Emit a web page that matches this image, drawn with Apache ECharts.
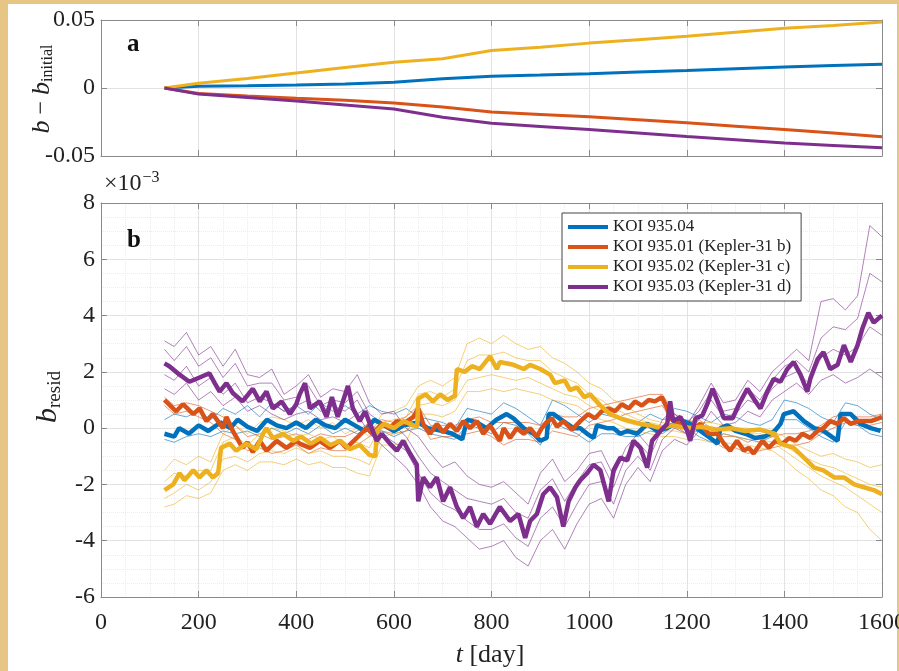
<!DOCTYPE html>
<html>
<head>
<meta charset="utf-8">
<script src="https://cdn.jsdelivr.net/npm/echarts@6/dist/echarts.min.js"></script>
<style>
  html, body { margin: 0; padding: 0; }
  body { width: 899px; height: 671px; background: #e7c585; position: relative; overflow: hidden; }
  #paper { position: absolute; left: 8px; top: 4px; width: 889px; height: 667px; background: #fff; }
  #main { position: absolute; left: 0; top: 0; width: 899px; height: 671px; }
</style>
</head>
<body>
<div id="paper"></div>
<div id="main"></div>
<script>
// panel a: b - b_initial
var topT = [130, 200, 300, 400, 500, 600, 700, 800, 900, 1000, 1100, 1200, 1300, 1400, 1500, 1600];
var topBlue = [0, 0.0013, 0.0017, 0.0022, 0.003, 0.0042, 0.0068, 0.0087, 0.0095, 0.0104, 0.0117, 0.0129, 0.0142, 0.0154, 0.0165, 0.0174];
var topOrange = [0, -0.004, -0.0058, -0.0075, -0.009, -0.011, -0.014, -0.0177, -0.0194, -0.0211, -0.0233, -0.0256, -0.0281, -0.0306, -0.0331, -0.0358];
var topYellow = [0, 0.0035, 0.007, 0.011, 0.015, 0.019, 0.0215, 0.0275, 0.030, 0.033, 0.0355, 0.038, 0.041, 0.044, 0.046, 0.0485];
var topPurple = [0, -0.0045, -0.007, -0.0095, -0.0125, -0.0155, -0.0215, -0.026, -0.0283, -0.0306, -0.0331, -0.0356, -0.038, -0.0405, -0.0422, -0.044];

// panel b: main (thick) residual curves, [t, b_resid x1e-3]
var blueMain = [[130,-0.2],[150,-0.3],[160,0],[180,-0.2],[200,0.1],[220,-0.1],[245,0.2],[265,0],[280,0.3],[300,0.05],[320,-0.1],[340,0.3],[360,0.1],[380,0],[400,0.2],[420,0],[440,0.3],[460,0.1],[480,0],[500,0.3],[520,0.1],[540,-0.1],[560,0.3],[580,0.1],[600,-0.1],[620,0.1],[650,0.2],[670,0],[700,-0.1],[720,-0.2],[740,-0.4],[750,0.3],[770,0.2],[790,0],[810,0.3],[831,0.5],[845,0.35],[866,0],[886,-0.2],[900,-0.45],[913,-0.35],[917,0.5],[927,0.5],[947,0.25],[968,0],[982,0],[996,-0.2],[1009,-0.35],[1016,0.1],[1037,0],[1050,0],[1064,-0.2],[1078,-0.1],[1098,-0.2],[1119,0.15],[1139,-0.1],[1160,0],[1187,0.3],[1207,0.15],[1228,-0.1],[1248,-0.35],[1263,-0.55],[1269,0],[1283,0.1],[1300,-0.1],[1320,-0.2],[1340,-0.35],[1360,-0.3],[1380,-0.1],[1392,0.15],[1399,0.5],[1419,0.6],[1440,0.25],[1461,0],[1480,-0.1],[1509,-0.45],[1515,0.5],[1536,0.5],[1556,0.15],[1577,0],[1597,-0.1]];
var orangeMain = [[130,1.0],[134,0.95],[154,0.6],[168,0.85],[189,0.5],[202,0.7],[216,0.25],[229,0.5],[250,0],[257,0.4],[270,-0.1],[290,-0.7],[300,-0.5],[311,-0.85],[325,-0.45],[339,-0.8],[360,-0.45],[380,-0.7],[400,-0.45],[407,-0.55],[428,-0.7],[448,-0.45],[469,-0.7],[489,-0.45],[503,-0.7],[524,-0.35],[544,0],[557,-0.2],[575,0.15],[592,0],[606,0.25],[619,0.15],[640,0.4],[650,0.7],[660,0.15],[674,-0.2],[688,0.15],[701,-0.15],[715,0.15],[729,-0.1],[742,0.25],[756,0],[770,0.25],[783,-0.2],[797,0.1],[804,-0.1],[817,-0.45],[825,0],[838,-0.35],[852,0],[866,-0.2],[879,0],[893,-0.3],[903,0],[913,0.2],[924,0.35],[934,0.05],[947,0.25],[965,-0.05],[982,0.25],[998,0.5],[1012,0.35],[1026,0.6],[1040,0.7],[1053,0.6],[1067,0.85],[1081,0.7],[1094,0.95],[1108,0.8],[1122,1.0],[1135,0.95],[1149,1.1],[1160,0.7],[1166,0.35],[1187,0.15],[1207,-0.1],[1228,0.15],[1245,-0.2],[1263,-0.2],[1276,-0.55],[1289,-0.8],[1303,-0.45],[1317,-0.8],[1327,-0.7],[1337,-0.9],[1355,-0.45],[1368,-0.7],[1382,-0.45],[1396,-0.55],[1410,-0.35],[1423,-0.45],[1437,-0.2],[1453,-0.35],[1468,-0.1],[1480,0],[1494,0.25],[1509,0.15],[1522,0.35],[1536,0.15],[1550,0.25],[1577,0.25],[1593,0.35],[1600,0.4]];
var yellowMain = [[130,-2.2],[134,-2.15],[148,-2.0],[161,-1.6],[171,-1.85],[189,-1.5],[202,-1.75],[216,-1.5],[229,-1.75],[240,-1.6],[246,-0.7],[264,-0.55],[277,-0.8],[298,-0.55],[318,-0.75],[332,-0.2],[339,0],[352,-0.35],[373,-0.2],[394,-0.45],[410,-0.3],[430,-0.55],[450,-0.35],[470,-0.6],[490,-0.45],[510,-0.75],[530,-0.6],[550,-0.95],[562,-1.0],[565,-0.1],[580,0.15],[600,0],[620,0.25],[640,0.1],[648,0.05],[650,1.05],[665,1.2],[680,0.95],[695,1.2],[710,1.0],[725,1.15],[729,2.1],[745,2.0],[760,2.2],[776,2.1],[797,2.55],[811,2.1],[817,2.35],[845,2.25],[866,2.1],[879,2.25],[900,2.1],[920,1.9],[930,1.6],[950,1.7],[961,1.35],[975,1.45],[990,1.1],[1002,1.2],[1023,0.8],[1043,0.5],[1064,0.35],[1084,0.25],[1105,0.15],[1125,0.1],[1146,0],[1170,0.1],[1200,0],[1230,0.05],[1260,-0.05],[1290,0],[1320,-0.1],[1350,-0.05],[1380,-0.2],[1392,-0.55],[1419,-0.7],[1440,-1.05],[1461,-1.4],[1480,-1.5],[1502,-1.75],[1522,-1.75],[1543,-2.0],[1563,-2.1],[1583,-2.2],[1600,-2.35]];
var purpleMain = [[130,2.3],[140,2.2],[161,1.9],[181,1.65],[202,1.8],[222,1.95],[233,1.6],[243,1.3],[257,1.6],[270,1.25],[290,0.95],[311,1.4],[325,0.95],[339,1.3],[352,0.7],[370,0.95],[387,0.5],[400,0.85],[407,1.2],[418,1.6],[428,0.7],[448,0.95],[462,0.4],[473,1.1],[485,0.4],[506,1.5],[516,0.7],[530,0.25],[541,0.6],[551,0.15],[565,-0.45],[575,-0.2],[592,-0.55],[606,-0.8],[619,-0.45],[633,-0.9],[647,-1.3],[650,-2.6],[660,-1.75],[674,-2.1],[688,-1.75],[701,-2.6],[715,-2.1],[729,-2.8],[742,-3.2],[756,-2.8],[770,-3.5],[783,-3.05],[797,-3.4],[817,-2.8],[838,-3.3],[855,-3.05],[869,-3.9],[879,-3.3],[893,-3.05],[906,-2.35],[920,-2.1],[934,-2.45],[947,-3.5],[958,-2.6],[972,-2.1],[982,-1.85],[996,-1.6],[1009,-1.3],[1023,-1.5],[1040,-2.6],[1050,-1.5],[1064,-1.05],[1078,-1.15],[1091,-0.45],[1105,-0.7],[1119,-1.4],[1129,-0.45],[1146,-0.1],[1160,0.15],[1166,0.95],[1172,0.25],[1187,0.4],[1201,-0.1],[1207,-0.45],[1218,0.35],[1232,0.45],[1242,0.85],[1253,1.4],[1263,0.95],[1276,0.35],[1294,0.35],[1307,0.85],[1324,1.4],[1337,1.05],[1351,0.7],[1365,1.3],[1378,1.75],[1392,1.65],[1406,2.1],[1419,2.35],[1433,1.9],[1447,1.3],[1453,1.75],[1468,2.45],[1480,2.7],[1494,2.1],[1509,2.25],[1522,2.95],[1536,2.35],[1550,2.95],[1560,3.55],[1572,4.1],[1583,3.75],[1593,3.9],[1600,4.0]];

// panel b: a few ensemble members (thin), sampled on a common time grid
var thinT = [130,150,175,200,225,250,275,300,325,350,375,400,425,450,475,500,525,550,575,600,625,650,675,700,725,750,775,800,825,850,875,900,925,950,975,1000,1025,1050,1075,1100,1125,1150,1175,1200,1225,1250,1275,1300,1325,1350,1375,1400,1425,1450,1475,1500,1525,1550,1575,1600];
var blueThin1 = [0.3,0.5,0.4,0.6,0.3,0.7,0.5,0.8,0.4,0.9,0.6,0.8,0.5,0.9,0.6,0.8,0.5,0.8,0.6,0.5,0.7,0.4,0.3,0.2,0.0,0.7,0.6,0.5,0.9,0.7,0.4,0.1,1.0,0.8,0.5,0.2,0.5,0.4,0.3,0.2,0.5,0.3,0.7,0.6,0.4,0.2,0.5,0.4,0.2,0.1,0.3,1.0,0.9,0.7,0.4,0.2,0.9,0.8,0.5,0.3];
var blueThin2 = [-0.4,-0.5,-0.3,-0.2,-0.3,-0.1,-0.2,-0.1,-0.3,0.0,-0.2,0.0,-0.2,0.1,-0.2,0.0,-0.2,0.0,-0.1,-0.3,-0.1,0.0,-0.2,-0.3,-0.4,0.1,0.0,-0.2,0.2,0.1,-0.2,-0.6,0.2,0.0,-0.2,-0.5,-0.2,-0.2,-0.3,-0.3,-0.1,-0.2,0.1,0.0,-0.3,-0.5,-0.2,-0.3,-0.4,-0.5,-0.3,0.3,0.3,0.0,-0.3,-0.5,0.2,0.1,-0.2,-0.3];
var orangeThin1 = [1.1,0.8,0.9,0.8,0.6,0.4,0.1,-0.3,-0.2,-0.4,-0.3,-0.2,-0.4,-0.2,-0.3,-0.3,-0.1,0.2,0.3,0.2,0.4,0.8,0.1,0.1,0.1,0.3,0.4,0.2,0.2,0.2,0.2,0.1,0.5,0.4,0.4,0.7,0.8,0.9,1.0,1.1,1.2,1.2,0.5,0.2,0.3,0.0,-0.3,-0.3,-0.5,-0.3,-0.3,-0.2,-0.2,-0.1,0.1,0.4,0.5,0.4,0.4,0.5];
var orangeThin2 = [0.8,0.5,0.6,0.4,0.2,-0.2,-0.4,-0.8,-0.7,-0.9,-0.8,-0.6,-0.9,-0.7,-0.8,-0.8,-0.6,-0.3,-0.1,-0.2,-0.1,0.3,-0.4,-0.3,-0.3,-0.2,-0.1,-0.3,-0.6,-0.4,-0.4,-0.5,-0.1,-0.2,-0.3,0.1,0.2,0.3,0.5,0.6,0.7,0.8,0.1,-0.2,-0.1,-0.4,-0.7,-0.7,-0.9,-0.8,-0.7,-0.6,-0.6,-0.5,-0.2,0.0,0.2,0.1,0.1,0.2];
var yellowThin1 = [-1.5,-1.1,-1.3,-1.0,-1.2,-0.2,0.1,-0.2,0.2,0.4,0.3,0.1,0.3,0.0,0.2,-0.2,0.0,-0.3,0.5,0.6,0.8,1.5,1.7,1.5,1.8,3.0,3.2,3.0,3.3,3.0,2.8,2.9,2.5,2.3,2.0,1.6,1.4,1.0,0.8,0.5,0.3,0.2,0.1,0.3,0.2,0.2,0.1,0.0,0.0,-0.1,-0.1,-0.3,-0.6,-0.8,-1.0,-0.9,-1.1,-1.2,-1.4,-1.3];
var yellowThin2 = [-2.5,-2.3,-2.0,-2.2,-1.9,-1.1,-1.0,-1.2,-0.9,-0.8,-0.9,-0.7,-0.9,-0.8,-1.0,-1.0,-1.1,-1.3,-0.3,-0.2,-0.1,0.8,0.9,0.8,1.0,1.7,1.8,1.9,1.8,1.7,1.8,1.6,1.4,1.2,1.1,0.8,0.6,0.4,0.2,0.1,0.0,-0.1,-0.1,-0.2,-0.1,-0.3,-0.2,-0.3,-0.4,-0.4,-0.5,-0.8,-1.1,-1.4,-1.7,-1.9,-2.1,-2.4,-2.7,-3.0];
var yellowThin3 = [-2.8,-2.7,-2.4,-2.5,-2.3,-1.5,-1.3,-1.5,-1.2,-1.2,-1.3,-1.1,-1.3,-1.2,-1.4,-1.4,-1.6,-1.7,-0.6,-0.6,-0.5,0.5,0.5,0.4,0.6,1.3,1.3,1.4,1.3,1.4,1.3,1.2,1.0,0.9,0.8,0.5,0.3,0.2,0.0,-0.1,-0.2,-0.3,-0.3,-0.4,-0.4,-0.5,-0.5,-0.6,-0.6,-0.7,-0.8,-1.1,-1.5,-1.8,-2.2,-2.4,-2.8,-3.0,-3.6,-4.0];
var yellowThin4 = [-1.9,-1.6,-1.7,-1.5,-1.5,-0.5,-0.3,-0.6,-0.2,0.0,-0.1,-0.3,-0.2,-0.4,-0.3,-0.6,-0.5,-0.7,0.2,0.3,0.4,1.2,1.3,1.1,1.4,2.4,2.6,2.6,2.7,2.5,2.4,2.4,2.0,1.8,1.6,1.2,1.0,0.7,0.5,0.3,0.2,0.1,0.0,0.1,0.0,0.0,-0.1,-0.1,-0.2,-0.2,-0.3,-0.6,-0.9,-1.1,-1.3,-1.4,-1.6,-1.8,-2.0,-2.1];
var purpleThin1 = [3.1,2.9,3.4,2.6,2.9,2.2,2.8,1.9,1.8,2.1,1.2,1.5,1.9,1.1,1.4,1.3,1.9,0.9,0.5,0.6,0.0,-0.3,-0.9,-1.4,-1.2,-1.7,-2.0,-2.1,-1.9,-2.3,-2.7,-1.6,-1.1,-1.9,-1.5,-0.9,-0.8,-1.7,-0.7,-0.2,-0.7,0.3,0.4,0.1,0.8,1.6,0.9,1.0,1.7,1.3,2.0,2.4,2.8,2.4,4.5,4.6,4.2,4.7,7.2,6.8];
var purpleThin2 = [2.8,2.4,2.9,2.2,2.5,1.8,2.3,1.5,1.6,1.6,1.0,1.1,1.5,0.8,1.0,0.9,1.3,0.5,0.2,0.1,-0.3,-1.0,-1.6,-1.9,-2.2,-2.5,-2.6,-2.7,-2.5,-3.0,-3.2,-2.2,-1.8,-2.6,-1.9,-1.3,-1.2,-2.1,-1.0,-0.5,-1.0,0.0,0.5,0.2,0.6,1.3,0.6,0.7,1.4,1.0,1.7,2.2,2.4,2.0,3.2,3.6,3.5,3.9,5.5,5.2];
var purpleThin3 = [1.4,1.2,1.6,1.0,1.3,0.8,1.1,0.6,0.8,0.5,0.3,0.5,0.6,0.3,0.4,0.2,0.5,-0.2,-0.6,-1.0,-1.4,-2.0,-2.8,-3.3,-3.5,-3.9,-4.3,-4.2,-4.0,-4.6,-4.9,-4.0,-3.6,-4.3,-3.4,-2.7,-2.5,-3.2,-2.0,-1.4,-1.9,-0.8,-0.4,-0.6,-0.1,0.6,0.1,0.2,0.6,0.4,1.0,1.3,1.6,1.2,1.7,1.9,1.6,1.8,2.1,1.8];
var purpleThin4 = [1.9,1.7,2.2,1.5,1.8,1.2,1.6,0.9,1.1,0.9,0.6,0.8,1.0,0.6,0.8,0.6,1.0,0.2,-0.2,-0.5,-0.8,-1.6,-2.3,-2.7,-2.9,-3.3,-3.6,-3.6,-3.4,-3.9,-4.2,-3.2,-2.8,-3.5,-2.7,-2.0,-1.9,-2.7,-1.5,-1.0,-1.5,-0.4,0.0,-0.2,0.3,1.0,0.4,0.5,1.0,0.8,1.4,1.8,2.0,1.6,2.5,2.8,2.6,2.9,3.6,3.3];

var C_BLUE = '#0072BD', C_ORANGE = '#D95319', C_YELLOW = '#EDB120', C_PURPLE = '#7E2F8E';
var NAMES = ['KOI 935.04', 'KOI 935.01 (Kepler-31 b)', 'KOI 935.02 (Kepler-31 c)', 'KOI 935.03 (Kepler-31 d)'];
var SERIF = '"Liberation Serif", "DejaVu Serif", serif';
var AX = '#8a8a8a';

function zip(t, v) { return t.map(function (x, i) { return [x, v[i]]; }); }

function xAx(grid, showLabel, top, minor) {
  return {
    type: 'value', gridIndex: grid, min: 0, max: 1600, interval: 200,
    position: top ? 'top' : 'bottom',
    axisLine: { show: true, onZero: false, lineStyle: { color: AX, width: 1 } },
    axisTick: { show: true, inside: true, length: 6, lineStyle: { color: AX } },
    axisLabel: { show: showLabel, color: '#222', fontFamily: SERIF, fontSize: 24, margin: 14,
      formatter: function (v) { return String(v); } },
    splitLine: { show: !top, lineStyle: { color: '#e2e2e2', width: 1 } },
    minorTick: { show: false, splitNumber: 4 },
    minorSplitLine: { show: !!minor, lineStyle: { color: '#ececec', type: 'dotted', width: 1 } }
  };
}
function yAx(grid, min, max, interval, showLabel, right, minor, fmt) {
  return {
    type: 'value', gridIndex: grid, min: min, max: max, interval: interval,
    position: right ? 'right' : 'left',
    axisLine: { show: true, onZero: false, lineStyle: { color: AX, width: 1 } },
    axisTick: { show: true, inside: true, length: 6, lineStyle: { color: AX } },
    axisLabel: { show: showLabel, color: '#222', fontFamily: SERIF, fontSize: 24, margin: 6,
      formatter: fmt || function (v) { return String(v); } },
    splitLine: { show: !right, lineStyle: { color: '#e2e2e2', width: 1 } },
    minorTick: { show: false, splitNumber: 4 },
    minorSplitLine: { show: !!minor, lineStyle: { color: '#ececec', type: 'dotted', width: 1 } }
  };
}

function topLine(data, color) {
  return { type: 'line', xAxisIndex: 0, yAxisIndex: 0, data: zip(topT, data), symbol: 'none',
    lineStyle: { color: color, width: 3 }, itemStyle: { color: color }, silent: true, z: 3 };
}
function thinLine(data, color) {
  return { type: 'line', xAxisIndex: 2, yAxisIndex: 2, data: zip(thinT, data), symbol: 'none',
    lineStyle: { color: color, width: 1, opacity: 0.6 }, itemStyle: { color: color }, silent: true, z: 2 };
}
function mainLine(name, data, color) {
  return { name: name, type: 'line', xAxisIndex: 2, yAxisIndex: 2, data: data, symbol: 'none',
    lineStyle: { color: color, width: 4.5 }, itemStyle: { color: color }, silent: true, z: 3 };
}

var chart = echarts.init(document.getElementById('main'), null, { renderer: 'canvas' });
chart.setOption({
  backgroundColor: 'transparent',
  animation: false,
  grid: [
    { left: 101, top: 20, width: 781, height: 136, containLabel: false, outerBoundsMode: 'none' },
    { left: 101, top: 203, width: 781, height: 394, containLabel: false, outerBoundsMode: 'none' }
  ],
  xAxis: [ xAx(0, false, false, false), xAx(0, false, true, false), xAx(1, true, false, true), xAx(1, false, true, false) ],
  yAxis: [
    yAx(0, -0.05, 0.05, 0.05, true, false, false, function (v) { return v === 0 ? '0' : v.toFixed(2); }),
    yAx(0, -0.05, 0.05, 0.05, false, true, false),
    yAx(1, -6, 8, 2, true, false, true),
    yAx(1, -6, 8, 2, false, true, false)
  ],
  legend: {
    data: NAMES, orient: 'vertical', left: 562, top: 213,
    icon: 'rect', itemWidth: 40, itemHeight: 4, itemGap: 2,
    padding: [5, 10, 5, 6],
    backgroundColor: '#fff', borderColor: '#444', borderWidth: 1, borderRadius: 0,
    textStyle: { fontFamily: SERIF, fontSize: 17, color: '#222', lineHeight: 18 },
    z: 10
  },
  graphic: [
    { type: 'text', left: 127, top: 32, z: 20, style: { text: 'a', font: 'bold 25px ' + SERIF, fill: '#111' } },
    { type: 'text', left: 127, top: 228, z: 20, style: { text: 'b', font: 'bold 25px ' + SERIF, fill: '#111' } },
    { type: 'text', left: 104, top: 170, z: 20, style: {
        text: '×10{sup|−3}', font: '24px ' + SERIF, fill: '#222',
        rich: { sup: { fontFamily: SERIF, fontSize: 16, verticalAlign: 'top', padding: [0, 0, 12, 1] } } } },
    { type: 'text', x: 42, y: 89, rotation: Math.PI / 2, z: 20, style: {
        text: '{i|b} − {i|b}{s|initial}', fontFamily: SERIF, fontSize: 24, fill: '#222', align: 'center', verticalAlign: 'middle',
        rich: { i: { fontFamily: SERIF, fontStyle: 'italic', fontSize: 26 }, s: { fontFamily: SERIF, fontSize: 16, padding: [12, 0, 0, 0] } } } },
    { type: 'text', x: 48, y: 397, rotation: Math.PI / 2, z: 20, style: {
        text: '{i|b}{s|resid}', fontFamily: SERIF, fontSize: 28, fill: '#222', align: 'center', verticalAlign: 'middle',
        rich: { i: { fontFamily: SERIF, fontStyle: 'italic', fontSize: 30 }, s: { fontFamily: SERIF, fontSize: 19, padding: [14, 0, 0, 0] } } } },
    { type: 'text', x: 490, y: 655, z: 20, style: {
        text: '{i|t} [day]', fontFamily: SERIF, fontSize: 26, fill: '#222', align: 'center', verticalAlign: 'middle',
        rich: { i: { fontFamily: SERIF, fontStyle: 'italic', fontSize: 26 } } } }
  ],
  series: [
    topLine(topBlue, C_BLUE), topLine(topOrange, C_ORANGE), topLine(topYellow, C_YELLOW), topLine(topPurple, C_PURPLE),
    thinLine(blueThin1, C_BLUE), thinLine(blueThin2, C_BLUE), mainLine(NAMES[0], blueMain, C_BLUE),
    thinLine(orangeThin1, C_ORANGE), thinLine(orangeThin2, C_ORANGE), mainLine(NAMES[1], orangeMain, C_ORANGE),
    thinLine(yellowThin1, C_YELLOW), thinLine(yellowThin2, C_YELLOW), thinLine(yellowThin3, C_YELLOW), thinLine(yellowThin4, C_YELLOW), mainLine(NAMES[2], yellowMain, C_YELLOW),
    thinLine(purpleThin1, C_PURPLE), thinLine(purpleThin2, C_PURPLE), thinLine(purpleThin3, C_PURPLE), thinLine(purpleThin4, C_PURPLE), mainLine(NAMES[3], purpleMain, C_PURPLE)
  ]
});
</script>
</body>
</html>
